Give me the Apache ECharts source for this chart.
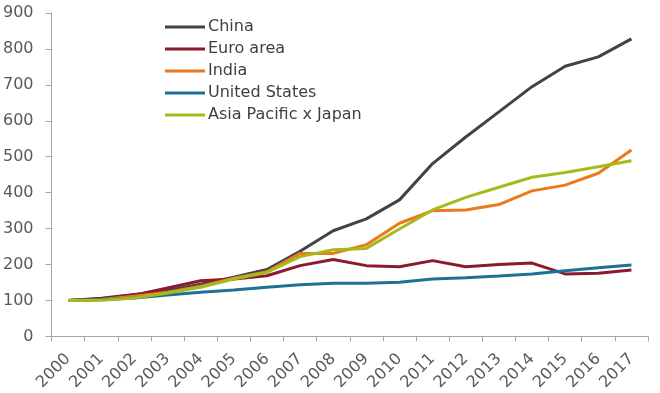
<!DOCTYPE html>
<html>
<head>
<meta charset="utf-8">
<script src="https://cdn.jsdelivr.net/npm/echarts@6/dist/echarts.min.js"></script>
<style>html,body{margin:0;padding:0;background:#fff;}#c{width:660px;height:393px;}</style>
</head>
<body>
<div id="c"></div>
<script>
var years = ['2000','2001','2002','2003','2004','2005','2006','2007','2008','2009','2010','2011','2012','2013','2014','2015','2016','2017'];
var china = [100,106,117,128,145,165,186,237,294,327,380,481,555,625,695,752,778,828];
var euroArea = [100,105,115,135,155,160,169,197,214,197,194,211,194,200,204,174,176,185];
var india = [100,103,112,123,140,162,180,231,231,255,315,350,352,367,405,421,454,519];
var unitedStates = [100,102,107,115,123,129,137,144,148,148,151,160,163,168,174,183,191,199];
var asiaPacific = [100,101,107,121,137,160,178,222,241,245,299,352,387,415,443,456,472,489];
var yTicks = [0,900,100];

var colors = ['#3d4549','#8c1a2e','#ea7a1a','#1b7295','#a7ba1c'];
function s(name, data, c) {
  return {name: name, type: 'line', data: data, symbol: 'none', smooth: false,
    lineStyle: {width: 3, color: c}, itemStyle: {color: c}};
}
var font = 'DejaVu Sans, Liberation Sans, Arial, sans-serif';
var chart = echarts.init(document.getElementById('c'));
chart.setOption({
  animation: false,
  textStyle: {fontFamily: font},
  grid: {left: 50, right: 12, top: 13, bottom: 56.5},
  legend: {
    orient: 'vertical', left: 160, top: 14, itemWidth: 40, itemHeight: 3, itemGap: 6,
    icon: 'rect',
    textStyle: {fontSize: 16, fontFamily: font, color: '#404040', padding: [0,0,0,-2]},
    data: ['China','Euro area','India','United States','Asia Pacific x Japan']
  },
  xAxis: {
    type: 'category', data: years, boundaryGap: true,
    axisLine: {lineStyle: {color: '#a6a6a6', width: 1}},
    axisTick: {show: true, alignWithLabel: false, length: 5, lineStyle: {color: '#a6a6a6'}},
    axisLabel: {rotate: 45, fontSize: 16, fontFamily: font, color: '#595959', interval: 0, margin: 20}
  },
  yAxis: {
    type: 'value', min: yTicks[0], max: yTicks[1], interval: yTicks[2],
    axisLine: {show: true, lineStyle: {color: '#a6a6a6', width: 1}},
    axisTick: {show: true, length: 6, lineStyle: {color: '#a6a6a6'}},
    splitLine: {show: false},
    axisLabel: {fontSize: 16, fontFamily: font, color: '#595959', margin: 18}
  },
  series: [
    s('China', china, colors[0]),
    s('Euro area', euroArea, colors[1]),
    s('India', india, colors[2]),
    s('United States', unitedStates, colors[3]),
    s('Asia Pacific x Japan', asiaPacific, colors[4])
  ]
});
</script>
</body>
</html>
